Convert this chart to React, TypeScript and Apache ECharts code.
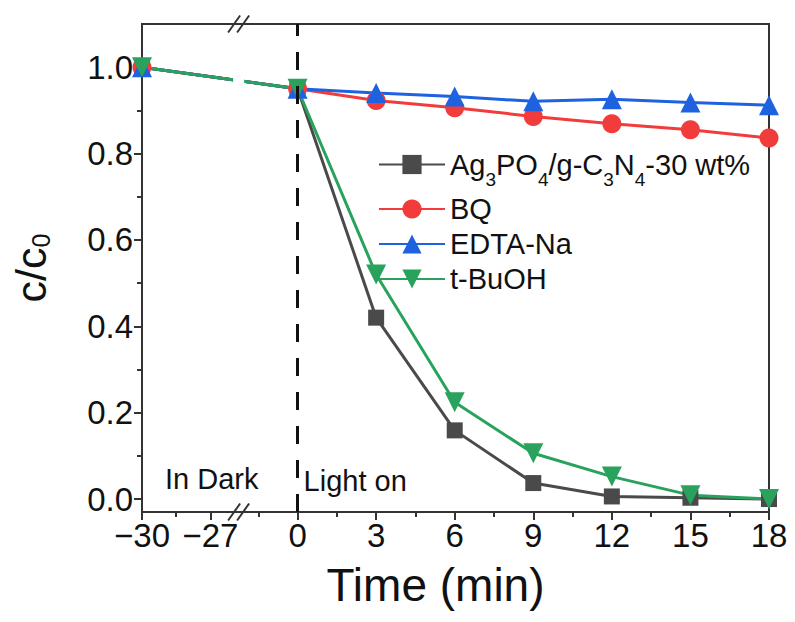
import React, { useEffect, useRef } from 'react';
import * as echarts from 'echarts';

// ---------- data ----------
const TIMES = [-30, 0, 3, 6, 9, 12, 15, 18];
const AG_CN = [1.0, 0.95, 0.42, 0.159, 0.037, 0.006, 0.003, 0.0];
const BQ = [1.0, 0.95, 0.923, 0.906, 0.886, 0.869, 0.855, 0.836];
const EDTA = [1.0, 0.95, 0.94, 0.932, 0.921, 0.926, 0.918, 0.912];
const TBUOH = [1.0, 0.95, 0.52, 0.224, 0.106, 0.052, 0.009, 0.0];
const SERIES_NAMES = ['Ag3PO4/g-C3N4-30 wt%', 'BQ', 'EDTA-Na', 't-BuOH'];

const X_TICKS = [-30, -27, 0, 3, 6, 9, 12, 15, 18];
const X_MINOR = [-28.5, -1.5, 1.5, 4.5, 7.5, 10.5, 13.5, 16.5];
const Y_TICKS = [0, 0.2, 0.4, 0.6, 0.8, 1.0];
const Y_MINOR = [0.1, 0.3, 0.5, 0.7, 0.9];

// ---------- broken-axis mapping (dark period compressed) ----------
const DARK_SCALE = 0.87;
const DARK_ANCHOR_T = -27;
const DARK_ANCHOR_U = -3.33;
const BREAK_U = -2.27;
const toAxis = (t: number) => (t < -20 ? DARK_ANCHOR_U + (t - DARK_ANCHOR_T) * DARK_SCALE : t);

const FONT = '"Liberation Sans", Arial, Helvetica, sans-serif';
const AXIS_COLOR = '#333';
const TEXT_COLOR = '#111';

const fmtX = (v: number) => {
  const t = X_TICKS.find((tt) => Math.abs(toAxis(tt) - v) < 1e-6);
  if (t === undefined) return '';
  return t < 0 ? '\u2212' + Math.abs(t) : String(t);
};

export default function App() {
  const ref = useRef<HTMLDivElement>(null);
  useEffect(() => {
    document.body.style.margin = '0';
    const chart = echarts.init(ref.current!, null, { renderer: 'svg' });
    const xMin = toAxis(-30);
    const xMax = 18;
    const yMin = -0.03;
    const yMax = 1.1;

    const mk = (
      name: string,
      vals: number[],
      color: string,
      symbol: string,
      size: number,
      rotate = 0,
      extra: any = {}
    ) => ({
      type: 'line',
      name,
      xAxisIndex: 0,
      yAxisIndex: 0,
      data: TIMES.map((t, i) => [toAxis(t), vals[i]]),
      symbol,
      symbolSize: size,
      symbolRotate: rotate,
      showAllSymbol: true,
      lineStyle: { color, width: 3 },
      itemStyle: { color },
      emphasis: { disabled: true },
      ...extra,
    });

    const option: any = {
      animation: false,
      textStyle: { fontFamily: FONT },
      grid: {
        left: 142,
        right: 26,
        top: 24,
        bottom: 110,
        show: true,
        borderColor: AXIS_COLOR,
        borderWidth: 2,
        containLabel: false,
        outerBoundsMode: 'none',
      },
      legend: {
        orient: 'vertical',
        left: 373,
        top: 145,
        itemWidth: 66,
        itemHeight: 24,
        itemGap: 6,
        data: SERIES_NAMES,
        selectedMode: false,
        formatter: (name: string) =>
          name === SERIES_NAMES[0]
            ? '{a|Ag}{s|3}{a|PO}{s|4}{a|/g-C}{s|3}{a|N}{s|4}{a|-30 wt%}'
            : '{n|' + name + '}',
        textStyle: {
          fontFamily: FONT,
          color: TEXT_COLOR,
          fontSize: 29,
          rich: {
            a: { fontSize: 29, lineHeight: 48, fontFamily: FONT, color: TEXT_COLOR },
            n: { fontSize: 29, lineHeight: 34, fontFamily: FONT, color: TEXT_COLOR },
            s: {
              fontSize: 19,
              lineHeight: 34,
              verticalAlign: 'bottom',
              fontFamily: FONT,
              color: TEXT_COLOR,
            },
          },
        },
      },
      xAxis: [
        {
          type: 'value',
          min: xMin,
          max: xMax,
          position: 'bottom',
          name: 'Time (min)',
          nameLocation: 'middle',
          nameGap: 50,
          nameTextStyle: {
            fontSize: 46,
            lineHeight: 46,
            color: TEXT_COLOR,
            fontFamily: FONT,
            padding: [0, 40, 0, 0],
          },
          axisLine: { show: true, onZero: false, lineStyle: { color: AXIS_COLOR, width: 2 } },
          axisTick: {
            show: true,
            length: 8,
            lineStyle: { color: AXIS_COLOR, width: 2 },
            customValues: X_TICKS.map(toAxis),
          },
          axisLabel: {
            show: true,
            fontSize: 33,
            color: TEXT_COLOR,
            margin: 7,
            fontFamily: FONT,
            customValues: X_TICKS.map(toAxis),
            formatter: fmtX,
          },
          splitLine: { show: false },
        },
        {
          type: 'value',
          min: xMin,
          max: xMax,
          position: 'bottom',
          gridIndex: 0,
          axisLine: { show: false, onZero: false },
          axisTick: {
            show: true,
            length: 5,
            lineStyle: { color: AXIS_COLOR, width: 2 },
            customValues: X_MINOR.map(toAxis),
          },
          axisLabel: { show: false },
          splitLine: { show: false },
        },
      ],
      yAxis: [
        {
          type: 'value',
          min: yMin,
          max: yMax,
          position: 'left',
          name: '{n|c/c}{s|0}',
          nameLocation: 'middle',
          nameGap: 89,
          nameTextStyle: {
            fontFamily: FONT,
            color: TEXT_COLOR,
            rich: {
              n: { fontSize: 43, lineHeight: 44, fontFamily: FONT, color: TEXT_COLOR },
              s: {
                fontSize: 25,
                lineHeight: 30,
                verticalAlign: 'bottom',
                fontFamily: FONT,
                color: TEXT_COLOR,
              },
            },
          },
          axisLine: { show: true, onZero: false, lineStyle: { color: AXIS_COLOR, width: 2 } },
          axisTick: {
            show: true,
            length: 8,
            lineStyle: { color: AXIS_COLOR, width: 2 },
            customValues: Y_TICKS,
          },
          axisLabel: {
            show: true,
            fontSize: 33,
            color: TEXT_COLOR,
            margin: 9,
            fontFamily: FONT,
            customValues: Y_TICKS,
            formatter: (v: number) => v.toFixed(1),
          },
          splitLine: { show: false },
        },
        {
          type: 'value',
          min: yMin,
          max: yMax,
          position: 'left',
          gridIndex: 0,
          axisLine: { show: false, onZero: false },
          axisTick: {
            show: true,
            length: 5,
            lineStyle: { color: AXIS_COLOR, width: 2 },
            customValues: Y_MINOR,
          },
          axisLabel: { show: false },
          splitLine: { show: false },
        },
      ],
      series: [
        mk(SERIES_NAMES[0], AG_CN, '#4a4a4a', 'rect', 16, 0, {
          markLine: {
            silent: true,
            symbol: 'none',
            label: { show: false },
            lineStyle: { color: '#111', width: 3, type: [18, 16] },
            emphasis: { disabled: true },
            data: [{ xAxis: 0 }],
          },
        }),
        mk(SERIES_NAMES[1], BQ, '#f23b3b', 'circle', 19),
        mk(SERIES_NAMES[2], EDTA, '#1f62e0', 'triangle', 20),
        mk(SERIES_NAMES[3], TBUOH, '#28a25c', 'triangle', 20, 180),
      ],
    };
    chart.setOption(option);

    const p = (u: number, v: number) =>
      chart.convertToPixel({ xAxisIndex: 0, yAxisIndex: 0 }, [u, v]) as number[];
    const [bx, topY] = p(BREAK_U, yMax);
    const bottomY = p(BREAK_U, yMin)[1];
    const yA = p(0, TBUOH[0])[1];
    const yB = p(0, TBUOH[1])[1];
    const slash = (cy: number) => [
      {
        type: 'line',
        z: 20,
        shape: { x1: bx - 10, y1: cy + 8.5, x2: bx + 2, y2: cy - 8.5 },
        style: { stroke: AXIS_COLOR, lineWidth: 2 },
      },
      {
        type: 'line',
        z: 20,
        shape: { x1: bx - 1, y1: cy + 8.5, x2: bx + 11, y2: cy - 8.5 },
        style: { stroke: AXIS_COLOR, lineWidth: 2 },
      },
    ];
    const [darkX] = p(toAxis(-30), 0);
    const [lightX] = p(0, 0);
    chart.setOption({
      graphic: [
        {
          type: 'rect',
          z: 15,
          shape: { x: bx - 5, y: Math.min(yA, yB) - 18, width: 11, height: Math.abs(yB - yA) + 36 },
          style: { fill: '#fff' },
        },
        ...slash(topY),
        ...slash(bottomY),
        {
          type: 'text',
          z: 20,
          x: darkX + 23,
          y: 479,
          style: {
            text: 'In Dark',
            fill: TEXT_COLOR,
            font: `29px ${FONT}`,
            verticalAlign: 'middle',
            align: 'left',
          },
        },
        {
          type: 'text',
          z: 20,
          x: lightX + 6,
          y: 481,
          style: {
            text: 'Light on',
            fill: TEXT_COLOR,
            font: `29px ${FONT}`,
            verticalAlign: 'middle',
            align: 'left',
          },
        },
      ],
    });

    return () => chart.dispose();
  }, []);
  return <div ref={ref} style={{ width: 795, height: 622 }} />;
}
